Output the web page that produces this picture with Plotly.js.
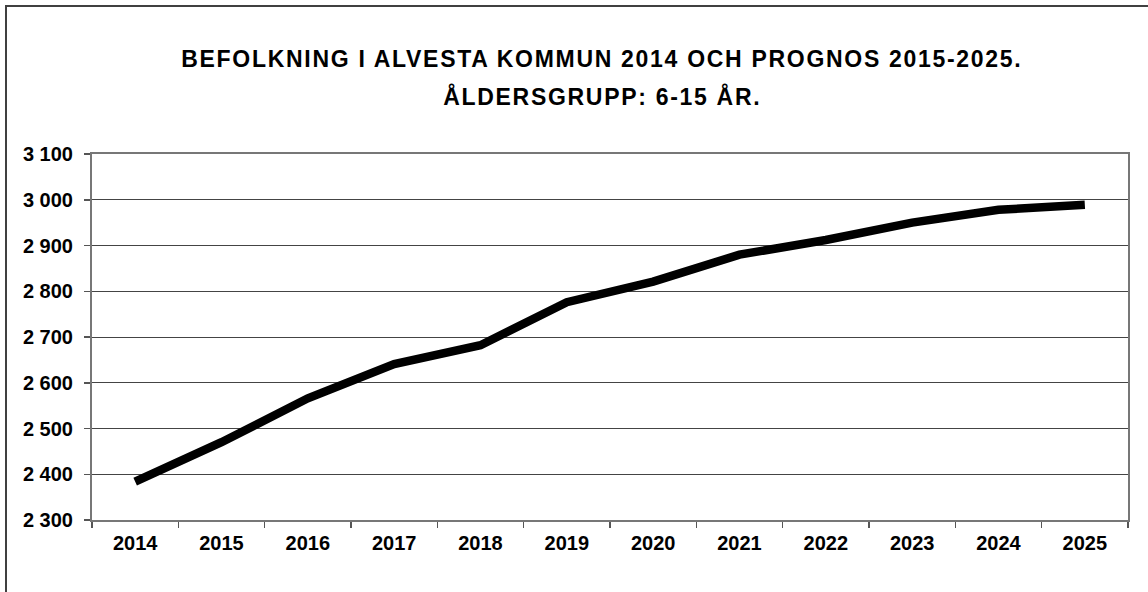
<!DOCTYPE html>
<html>
<head>
<meta charset="utf-8">
<script src="https://cdn.plot.ly/plotly-3.0.1.min.js"></script>
<style>
html,body{margin:0;padding:0;background:#fff;overflow:hidden;}
#wrap{position:relative;width:1148px;height:592px;}
#chart{width:1148px;height:592px;}
#frame{position:absolute;left:5px;top:5px;width:1200px;height:700px;border-left:2px solid #404040;border-top:2px solid #404040;pointer-events:none;}
#chart .annotation-text{letter-spacing:1.7px;}
</style>
</head>
<body>
<div id="wrap"><div id="chart"></div><div id="frame"></div></div>
<script>
const years = ['2014','2015','2016','2017','2018','2019','2020','2021','2022','2023','2024','2025'];
const population = [2384, 2470, 2566, 2641, 2682, 2776, 2821, 2880, 2912, 2950, 2978, 2989];
const titleLines = ['BEFOLKNING I ALVESTA KOMMUN 2014 OCH PROGNOS 2015-2025.', 'ÅLDERSGRUPP: 6-15 ÅR.'];

const fontFam = '"Liberation Sans", Arial, sans-serif';
const L = 92, R = 1128, T = 153.5, B = 520, W = 1148, H = 592;
const pw = R - L, ph = B - T;
const px = v => (v - L) / pw;
const py = v => (B - v) / ph;

const trace = {
  x: years, y: population, type: 'scatter', mode: 'lines',
  line: {color: '#000', width: 8.5},
  hoverinfo: 'x+y'
};

const titleY = [58, 96];

const layout = {
  width: W, height: H,
  margin: {l: L, r: W - R, t: T, b: H - B, pad: 0},
  paper_bgcolor: 'rgba(0,0,0,0)', plot_bgcolor: '#fff',
  separators: ', ',
  showlegend: false,
  xaxis: {
    type: 'category',
    range: [-0.5, years.length - 0.5],
    autorange: false,
    tickson: 'boundaries',
    ticks: 'outside', ticklen: 6, tickwidth: 1.5, tickcolor: '#555',
    showline: true, linecolor: '#777', linewidth: 2, mirror: true,
    showgrid: false, zeroline: false,
    tickfont: {family: fontFam, size: 20, color: '#000', weight: 'bold'},
    ticklabelstandoff: 4
  },
  yaxis: {
    range: [2300, 3100], autorange: false, dtick: 100, tick0: 2300,
    tickformat: ',d',
    ticks: 'outside', ticklen: 6, tickwidth: 1.5, tickcolor: '#555',
    showline: true, linecolor: '#777', linewidth: 2, mirror: true,
    showgrid: true, gridcolor: '#444', gridwidth: 1, zeroline: false,
    tickfont: {family: fontFam, size: 20, color: '#000', weight: 'bold'},
    ticklabelstandoff: 7
  },
  annotations: titleLines.map((t, i) => ({
    text: t, xref: 'paper', yref: 'paper',
    x: px(602), y: py(titleY[i]), xanchor: 'center', yanchor: 'middle',
    showarrow: false,
    font: {family: fontFam, size: 23, color: '#000', weight: 'bold'}
  }))
};

Plotly.newPlot('chart', [trace], layout, {displayModeBar: false, staticPlot: true});
</script>
</body>
</html>
